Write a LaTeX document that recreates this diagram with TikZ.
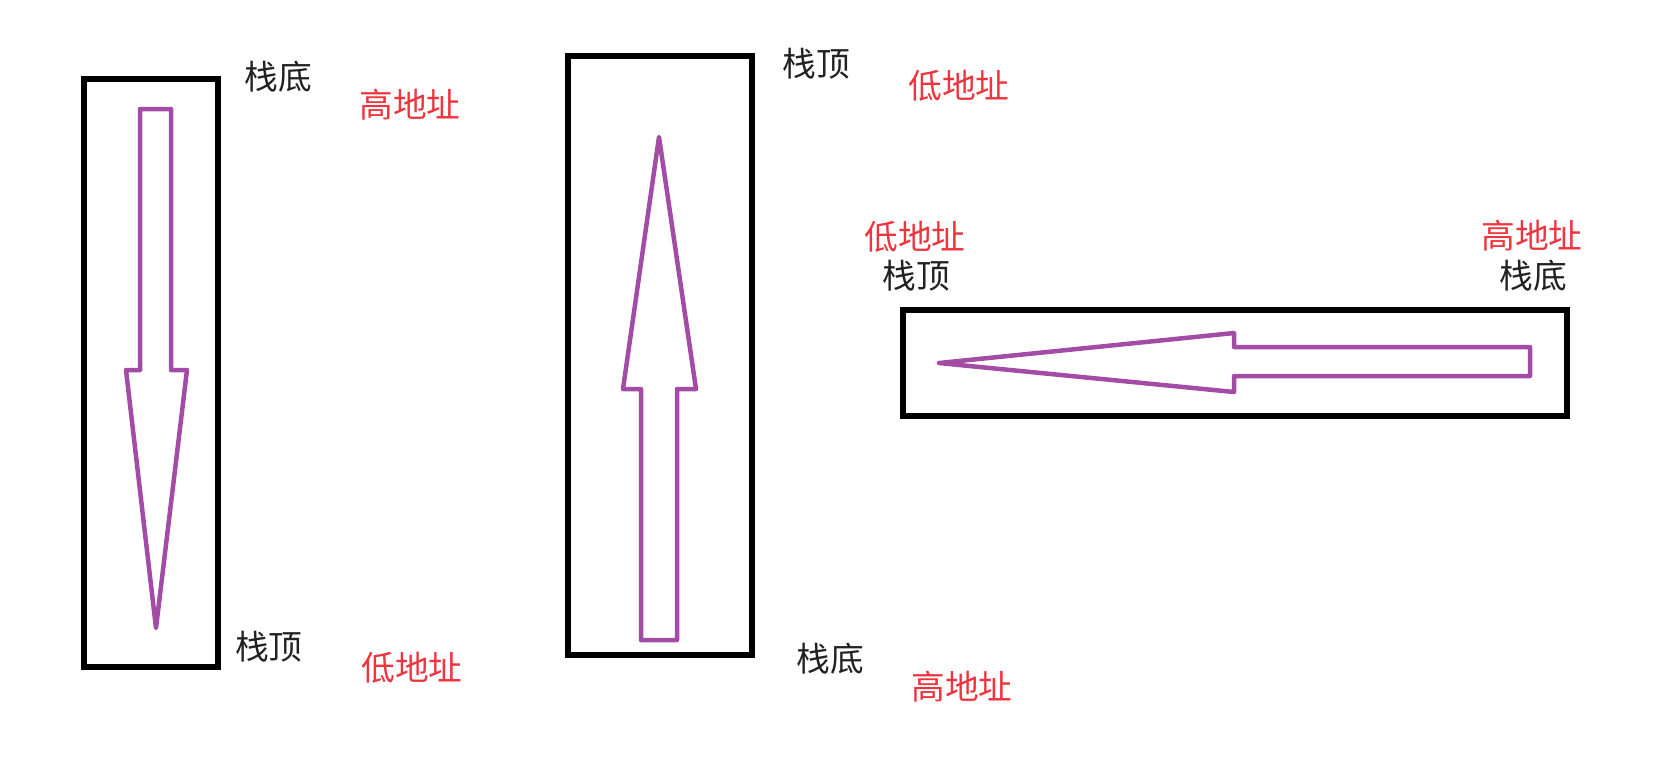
\documentclass[tikz,border=0pt]{standalone}
\usepackage{fontspec}
\setmainfont{Noto Sans CJK SC}
\definecolor{arrowpurple}{RGB}{163,76,166}
\definecolor{addrred}{RGB}{238,52,62}
\definecolor{labelgray}{RGB}{34,34,34}

\begin{document}
\begin{tikzpicture}[x=0.1mm,y=-0.1mm,
  stackbox/.style={draw=black,line width=0.55mm},
  growarrow/.style={draw=arrowpurple,line width=0.45mm,line join=round},
  endlabel/.style={text=labelgray,inner sep=0pt,font=\fontsize{9.6}{11}\selectfont},
  addrlabel/.style={text=addrred,inner sep=0pt,font=\fontsize{9.6}{11}\selectfont}]
\useasboundingbox (0,0) rectangle (1672,757);

\node[endlabel] (bottomA) at (278,77) {栈底};
\node[addrlabel] (highA) at (410,105) {高地址};
\node[endlabel] (topA) at (269,647) {栈顶};
\node[addrlabel] (lowA) at (412,668) {低地址};

\node[endlabel] (topB) at (816,64) {栈顶};
\node[addrlabel] (lowB) at (959,86) {低地址};
\node[endlabel] (bottomB) at (830,659) {栈底};
\node[addrlabel] (highB) at (962,687) {高地址};

\node[addrlabel] (lowC) at (915,237) {低地址};
\node[endlabel] (topC) at (916,276) {栈顶};
\node[addrlabel] (highC) at (1532,236) {高地址};
\node[endlabel] (bottomC) at (1533,276) {栈底};

\draw[stackbox] (84,79) rectangle (218,667);
\draw[stackbox] (568,56) rectangle (752,655);
\draw[stackbox] (903,310) rectangle (1567,416);

\draw[growarrow] (140,109) -- (171,109) -- (171,370) -- (187,370)
  -- (156,628) -- (126,370) -- (140,370) -- cycle;

\draw[growarrow] (641,640) -- (677,640) -- (677,389) -- (696,389)
  -- (659,137) -- (623,389) -- (641,389) -- cycle;

\draw[growarrow] (1530,347) -- (1530,376) -- (1234,376) -- (1234,392)
  -- (939,363) -- (1234,333) -- (1234,347) -- cycle;
\end{tikzpicture}
\end{document}
